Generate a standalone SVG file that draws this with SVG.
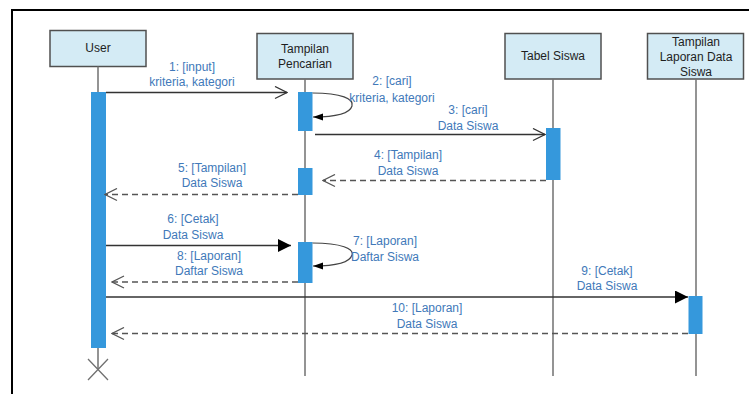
<svg xmlns="http://www.w3.org/2000/svg" width="749" height="394" viewBox="0 0 749 394">
<defs>
<style>
.box{fill:#d4ebf5;stroke:#505050;stroke-width:1.5}
.bt{font-family:"Liberation Sans",Arial,sans-serif;font-size:12px;fill:#1e1e1e;text-anchor:middle}
.life{stroke:#707070;stroke-width:1.5;fill:none}
.bar{fill:#3598dc}
.msg{stroke:#333;stroke-width:1.3;fill:none}
.loop{stroke:#444;stroke-width:1.2;fill:none}
.dash{stroke:#555;stroke-width:1.3;fill:none;stroke-dasharray:6 4}
.lbl{font-family:"Liberation Sans",Arial,sans-serif;font-size:12px;fill:#4179b9;text-anchor:middle}
</style>
<marker id="open" markerUnits="userSpaceOnUse" markerWidth="14" markerHeight="14" refX="12" refY="6" orient="auto" viewBox="-1 -1 14 14">
<path d="M0,0 L12,6 L0,12" fill="none" stroke="#333" stroke-width="1.3"/>
</marker>
<marker id="openg" markerUnits="userSpaceOnUse" markerWidth="14" markerHeight="14" refX="12" refY="6" orient="auto" viewBox="-1 -1 14 14">
<path d="M0,0 L12,6 L0,12" fill="none" stroke="#555" stroke-width="1.3"/>
</marker>
<marker id="fill" markerUnits="userSpaceOnUse" markerWidth="14" markerHeight="14" refX="13" refY="6.5" orient="auto" viewBox="0 0 14 14">
<path d="M0,0 L13,6.5 L0,13 z" fill="#000"/>
</marker>
<marker id="small" markerUnits="userSpaceOnUse" markerWidth="11" markerHeight="8" refX="10" refY="3.5" orient="auto" viewBox="0 0 11 8">
<path d="M0,0 L10,3.5 L0,7 z" fill="#000"/>
</marker>
</defs>
<rect width="749" height="394" fill="#fff"/>
<path d="M12,394 V10 H749" fill="none" stroke="#000" stroke-width="2"/>

<g id="user">
<rect class="box" x="50" y="30.5" width="96" height="36"/>
<text class="bt" x="98" y="52">User</text>
<line class="life" x1="98" y1="66.5" x2="98" y2="369"/>
<path d="M88,359 L108,380 M108,359 L88,380" stroke="#707070" stroke-width="1.3" fill="none"/>
<rect class="bar" x="91" y="92" width="15" height="256"/>
</g>

<g id="tampilan-pencarian">
<rect class="box" x="257" y="33.5" width="96" height="45.5"/>
<text class="bt" x="305" y="52.5">Tampilan</text>
<text class="bt" x="305" y="68">Pencarian</text>
<line class="life" x1="305" y1="79" x2="305" y2="376"/>
<rect class="bar" x="298" y="92" width="14.5" height="39"/>
<rect class="bar" x="298" y="168" width="14.5" height="27"/>
<rect class="bar" x="298" y="242" width="14.5" height="41"/>
</g>

<g id="tabel-siswa">
<rect class="box" x="505" y="33.5" width="96" height="45.5"/>
<text class="bt" x="553" y="59.5">Tabel Siswa</text>
<line class="life" x1="553" y1="79" x2="553" y2="376"/>
<rect class="bar" x="546" y="128" width="14.5" height="52"/>
</g>

<g id="tampilan-laporan">
<rect class="box" x="647.5" y="33.5" width="96" height="45.5"/>
<text class="bt" x="696" y="45.5">Tampilan</text>
<text class="bt" x="696" y="61">Laporan Data</text>
<text class="bt" x="696" y="76">Siswa</text>
<line class="life" x1="696" y1="79" x2="696" y2="376"/>
<rect class="bar" x="688.5" y="296" width="14" height="38"/>
</g>

<g id="connectors">
<line class="msg" x1="106" y1="92.5" x2="287" y2="92.5" marker-end="url(#open)"/>
<text class="lbl" x="192" y="70.5">1: [input]</text>
<text class="lbl" x="192" y="86">kriteria, kategori</text>

<path class="loop" d="M312.5,93 C342,93 354,99 352,106 C350,113 336,117 313,117" marker-end="url(#small)"/>
<text class="lbl" x="392" y="85">2: [cari]</text>
<text class="lbl" x="392" y="101.5">kriteria, kategori</text>

<line class="msg" x1="315" y1="134.5" x2="545" y2="134.5" marker-end="url(#open)"/>
<text class="lbl" x="468" y="114">3: [cari]</text>
<text class="lbl" x="468" y="130">Data Siswa</text>

<line class="dash" x1="546" y1="180.5" x2="323" y2="180.5" marker-end="url(#openg)"/>
<text class="lbl" x="408" y="159">4: [Tampilan]</text>
<text class="lbl" x="408" y="175">Data Siswa</text>

<line class="dash" x1="298" y1="194.5" x2="105" y2="194.5" marker-end="url(#openg)"/>
<text class="lbl" x="212" y="171.5">5: [Tampilan]</text>
<text class="lbl" x="212" y="187">Data Siswa</text>

<line class="msg" x1="106" y1="245.5" x2="291" y2="245.5" marker-end="url(#fill)"/>
<text class="lbl" x="193" y="223">6: [Cetak]</text>
<text class="lbl" x="193" y="239">Data Siswa</text>

<path class="loop" d="M312.5,243 C342,243 354,249 352,255 C350,262 336,266 313,266" marker-end="url(#small)"/>
<text class="lbl" x="385" y="245">7: [Laporan]</text>
<text class="lbl" x="385" y="261">Daftar Siswa</text>

<line class="dash" x1="298" y1="282" x2="112" y2="282" marker-end="url(#openg)"/>
<text class="lbl" x="209" y="260">8: [Laporan]</text>
<text class="lbl" x="209" y="275">Daftar Siswa</text>

<line class="msg" x1="106" y1="297" x2="688" y2="297" marker-end="url(#fill)"/>
<text class="lbl" x="607" y="274.5">9: [Cetak]</text>
<text class="lbl" x="607" y="290">Data Siswa</text>

<line class="dash" x1="688" y1="333.5" x2="112" y2="333.5" marker-end="url(#openg)"/>
<text class="lbl" x="427" y="312">10: [Laporan]</text>
<text class="lbl" x="427" y="328">Data Siswa</text>
</g>
</svg>
